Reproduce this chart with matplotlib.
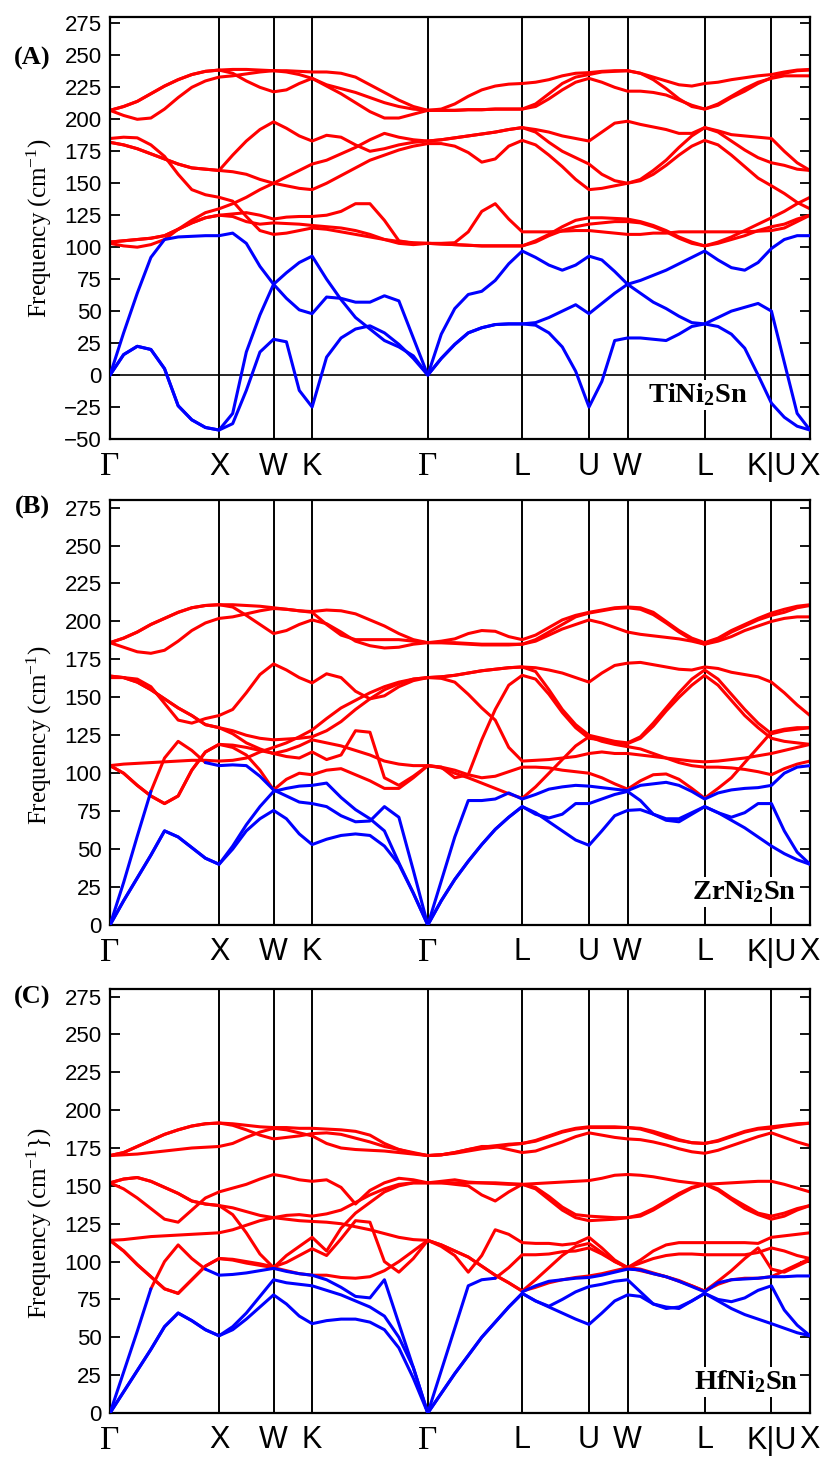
import numpy as np
import matplotlib
matplotlib.use("Agg")
import matplotlib.pyplot as plt

plt.rcParams['font.family'] = ['Liberation Sans', 'DejaVu Sans']
plt.rcParams['mathtext.fontset'] = 'custom'
plt.rcParams['mathtext.rm'] = 'Liberation Serif'
plt.rcParams['mathtext.it'] = 'Liberation Serif:italic'
plt.rcParams['mathtext.bf'] = 'Liberation Serif:bold'

nan = np.nan

# ---------------- k-path (fcc) ----------------
point_labels = ['Γ', 'X', 'W', 'K', 'Γ', 'L', 'U', 'W', 'L', 'K|U', 'X']
seg_len = [1.0, 0.5, np.sqrt(2) / 4, 3 * np.sqrt(2) / 4, np.sqrt(3) / 2,
           np.sqrt(6) / 4, np.sqrt(2) / 4, np.sqrt(2) / 2, np.sqrt(6) / 4, np.sqrt(2) / 4]
seg_n = [8, 4, 3, 8, 7, 5, 3, 6, 5, 3]

# ---------------- Panel A : TiNi2Sn ----------------
A_b1 = [0, 16, 22.5, 20, 5, -24, -35, -41, -43,
        -38, -12, 18, 28,  26, -12, -25,
        14, 29, 36, 38.5, 33, 24, 13, 0,
        13, 24, 33, 37, 39.5, 40, 40,
        39, 33, 22, 3, -25,  -5, 27, 29,
        29, 28, 27, 32, 38, 40,
        38, 32, 21, 0, -22,  -33, -40, -43]
A_b2 = [0, 16, 22.5, 20, 5, -24, -35, -41, -43,
        -30, 18, 47, 71,  80, 88, 93,
        75, 59, 45, 36, 27, 22, 15, 0,
        32, 52, 63, 65.5, 74, 87, 97,
        92, 86, 82, 86, 93,  90, 81, 71,
        74, 78, 82, 87, 92, 97,
        90, 84, 82, 88, 99,  106, 109, 109]
A_b3 = [0, 33, 64, 92, 106, 108, 108.5, 109, 109,
        111, 103, 85, 71,  60, 51, 48,
        61, 60, 57, 57, 62, 58, 29, 0,
        13, 24, 33, 37, 39.5, 40, 40,
        41, 45, 50, 55, 48,  56, 64, 71,
        64, 57, 52, 46, 41, 40,
        45, 50, 53, 56, 50,  10, -30, -43]
A_r1 = [207, 210, 214, 220, 226, 231, 235, 237.5, 238.5,
        239, 239, 238.5, 238,  238, 237.5, 237,
        237, 236, 233, 227, 221, 215, 210, 207,
        208, 212, 218, 223, 226, 227.5, 228,
        229, 231, 234, 236, 236.5,  237.5, 238, 238,
        236, 233, 230, 227, 226, 228,
        229, 231, 232.5, 234, 235,  237, 238.5, 239]
A_r2 = [207, 203, 200, 201, 208, 217, 225, 230, 233,
        234, 235.5, 237, 238,  237, 235, 232,
        227, 224, 221, 217, 213, 210, 208, 207,
        207, 207, 207.5, 207.5, 208, 208, 208,
        210, 216, 223, 229, 232,  229, 225, 222,
        222, 221, 219, 215, 211, 208,
        212, 218, 224, 229, 232,  234, 234, 234]
A_r3 = [207, 210, 214, 220, 226, 231, 235, 237.5, 238.5,
        236, 230, 225, 221.5,  223, 228, 232,
        226, 220, 213, 206, 201, 201, 204, 207,
        207, 207, 207.5, 207.5, 208, 208, 208,
        212, 220, 228, 233, 235,  237, 237.5, 238,
        236, 231, 224, 216, 210, 208,
        211, 217, 222, 228, 232.5,  236, 238, 238.5]
A_r4 = [185, 186, 185.5, 180, 171, 157, 145, 141, 139,
        136, 124, 113, 110,  111, 113, 115,
        114, 112, 110, 108, 106, 104.5, 103.5, 103,
        102.5, 102, 101.5, 101, 101, 101, 101,
        105, 110, 116, 121, 123,  123, 122.5, 122,
        120, 117, 113, 108, 104, 101,
        104, 108, 113, 118, 123,  128, 134, 139]
A_r5 = [182, 180, 177, 173, 169, 165, 162, 161, 160,
        172, 183, 192, 198,  193, 187, 183,
        187.5, 186, 180, 175, 177, 180, 182, 183,
        184, 185.5, 187, 188.5, 190, 192, 193.5,
        192, 190, 187, 185, 183,  190, 197, 198.5,
        196, 194, 192, 189, 189, 193.5,
        191, 188, 187, 186, 185,  175, 166, 160]
A_r6 = [182, 180, 177, 173, 169, 165, 162, 161, 160,
        159, 157, 153, 150,  155, 160, 165,
        168, 173, 178, 184, 189, 186, 184, 183,
        184, 185.5, 187, 188.5, 190, 192, 193.5,
        190, 182, 175, 170, 165,  157, 152, 150,
        153, 160, 168, 178, 187, 193.5,
        190, 183, 176, 170, 166,  164, 161, 160]
A_r7 = [103, 101, 100, 102, 106, 114, 121, 127, 130,
        134, 139, 145, 150,  148, 146, 145,
        150, 156, 162, 168, 172, 176, 179, 181,
        181, 179, 174, 166.5, 169, 179, 183.5,
        180, 172, 163, 153, 145,  146, 148, 150,
        152, 157, 164, 172, 179, 183.5,
        180, 172, 163, 154, 148,  142, 135, 130]
A_r8 = [104, 105, 106, 107, 109, 114, 119, 123, 125,
        126, 127, 125, 122,  123.5, 124, 124,
        125, 128, 134, 134, 121, 105, 103, 103,
        103, 103.5, 112, 128, 134, 122, 112,
        112, 112, 112.5, 113, 113,  112, 111, 110,
        110, 111, 111, 112, 112, 112,
        112, 112, 112, 112.5, 113,  115, 120, 125]
A_r9 = [104, 105, 106, 107, 109, 114, 119, 123, 125,
        124, 120, 118, 119,  118.5, 118, 117,
        116, 115, 113, 110, 106, 103, 102, 103,
        102.5, 102, 101.5, 101, 101, 101, 101,
        104, 109, 113, 116, 118,  119, 120, 120,
        119, 116, 112, 107, 103, 101,
        103, 106, 109, 113, 116,  118, 122, 125]

# ---------------- Panel B : ZrNi2Sn ----------------
B_b1 = [0, 16, 31, 46, 62, 58, 51, 44, 40,
        50, 62, 70, 75.5,  70, 60, 53,
        56.5, 59, 60, 59, 52, 40, 21, 0,
        16, 30, 42, 53, 63, 71, 78,
        74, 68, 62, 56, 52.5,  62, 72, 75.5,
        76, 73, 70, 70, 74, 78,
        74, 69, 64, 58, 52,  47, 43, 40]
B_b2 = [0, 16, 31, 46, 62, 58, 51, 44, 40,
        52, 66, 78, 88,  90, 91.5, 92,
        93.5, 84, 76, 70, 62, 41, 21, 0,
        16, 30, 42, 53, 63, 71, 78,
        73, 70.5, 73, 80, 80,  83, 86, 88,
        82, 73, 69, 68, 73, 78,
        74, 71, 74, 80, 80,  62, 48, 40]
B_b3 = [0, 28, 58.5, 88, nan, nan, nan, 107, 105,
        105.5, 105, 98, 89,  85, 81, 80,
        78, 72, 68, 68.5, 78, 71, 36, 0,
        29, 58, 82, 82, 83, 87, 83,
        86, 89.5, 91, 92, 91.5,  90.5, 89.5, 88.5,
        92, 93, 94, 92, 88, 83,
        87, 89, 90, 90.5, 92,  100, 104, 105]
B_x = [nan, nan, nan, 88, 110, 121, 115, 107] + [nan] * 45
B_r1 = [186, 189, 193, 198, 202, 206, 209, 210.5, 211,
        211, 210.5, 210, 209,  208, 207, 206.5,
        207.5, 207, 205, 201, 197, 192, 188, 186,
        187, 188.5, 192, 194, 193.5, 190, 188,
        191, 196, 201, 204, 206,  207.5, 209, 209.5,
        209, 206, 200, 194, 189, 186,
        189, 194, 198, 202, 205.5,  208, 210, 211]
B_r2 = [186, 183, 180, 179, 181, 187, 194, 199, 202,
        203, 205, 207, 208.5,  208, 207, 206,
        198, 191, 188, 188, 188, 188, 187, 186,
        186, 186, 185.5, 185, 185, 185, 185,
        188, 193, 198, 203, 205.5,  207, 208.5, 209,
        208, 204.5, 199, 193, 188, 185,
        188, 193, 197, 201, 204,  206, 209, 210.5]
B_r3 = [186, 189, 193, 198, 202, 206, 209, 210.5, 211,
        209.5, 204, 198, 192,  194, 198, 201,
        198.5, 193, 187, 184, 182.5, 183, 185, 186,
        186, 185.5, 185, 184.5, 184.5, 184.5, 185,
        187, 191, 195, 198, 201,  199, 196, 193,
        191.5, 190.5, 189.5, 188.5, 187, 185,
        187, 190, 194, 197, 200,  202, 203, 203]
B_r4 = [163, 163, 162, 157, 146, 135, 133, 136, 138,
        142, 153, 165, 172,  168, 163, 159.5,
        165.5, 163, 154, 149, 151, 157, 161, 163,
        163.5, 164.5, 166, 167.5, 168.5, 169.5, 170,
        169.5, 168, 166, 163, 160,  166, 171, 172.5,
        173, 171.5, 170, 168.5, 168, 170,
        169, 166.5, 165, 163.5, 160,  153, 145, 138]
B_r5 = [164, 163, 160, 155, 149, 143, 138, 132, 130,
        128, 125, 123, 122,  122.5, 123, 124,
        128, 134, 142, 149, 155, 159, 162, 163,
        163.5, 164.5, 166, 167.5, 168.5, 169.5, 170,
        167, 155, 142, 132, 125,  123, 121, 120,
        124, 133, 143, 153, 162, 168,
        162, 152, 142, 133, 126,  128, 129, 130]
B_r6 = [164, 163, 160, 155, 149, 143, 138, 132, 130,
        126, 120, 116, 113,  111, 110, 114,
        109, 112, 128, 127, 97, 92, 98, 105,
        104, 97, 99, 122, 142, 158, 164.5,
        162, 152, 140, 130, 123,  122, 120, 119.5,
        123, 131, 141, 150, 158, 164.5,
        158, 148, 138, 130, 123,  121, 120, 119]
B_r7 = [105, 106, 106.5, 107, 107.5, 108, 108.5, 108.5, 108,
        108.5, 110, 114, 117,  120, 124, 128.5,
        136, 143, 148, 153, 157, 160, 162, 163,
        162.5, 160, 152, 143, 135, 117, 108,
        108.5, 109, 110, 111, 113,  114, 113, 113,
        112, 111, 110, 109, 108, 107.5,
        108, 109, 110, 111.5, 113,  115, 117, 119]
B_r8 = [105, 100, 92, 85, 80, 85, 102, 114, 119,
        117, 112, 102, 89,  96, 100, 99,
        102, 103, 99, 95, 90, 90, 97, 105,
        104, 102, 99, 97, 98, 101, 104,
        104, 103.5, 102, 101, 100,  97, 93, 89.5,
        95, 99, 99.5, 96, 90, 83.5,
        90, 97, 107, 117, 127,  129, 130, 130]
B_r9 = [105, 100, 92, 85, 80, 85, 102, 114, 119,
        118.5, 117, 115, 113,  115, 118, 122,
        120, 118, 115, 112, 108, 106, 105, 105,
        103.5, 100, 97, 93.5, 90, 86.5, 83.5,
        91, 100, 109, 118, 124,  121, 119, 117.5,
        116, 113, 110, 107, 105, 104,
        104, 103.5, 102.5, 101, 99,  103, 106, 108]

# ---------------- Panel C : HfNi2Sn ----------------
C_b1 = [0, 14, 28, 42, 57, 66, 61, 55, 51,
        55, 62, 70, 78,  72, 64, 59,
        61, 62, 62, 60, 55, 43, 23, 0,
        13, 26, 38, 50, 60, 70, 79,
        74, 70, 66, 62, 58.5,  66, 74, 78,
        77, 72, 69, 70, 74, 79,
        74, 69, 65, 62, 59,  56, 53, 51]
C_b2 = [0, 14, 28, 42, 57, 66, 61, 55, 51,
        57, 66, 77, 88,  86, 85, 84,
        81, 78, 74, 70, 64, 50, 30, 0,
        13, 26, 38, 50, 60, 70, 79,
        74, 70.5, 75, 80, 83.5,  85, 87, 88,
        80, 72, 70, 69, 74, 79,
        75, 73.5, 76, 81, 84,  68, 58, 51]
C_b3 = [0, 27, 54, 82, nan, nan, nan, 95, 91,
        91.5, 92.5, 94, 95.5,  93.5, 92, 91,
        88, 83, 77, 76, 88, 59, 30, 0,
        28, 56, 84, 88, 89, nan, 80,
        84, 87, 88, 89, 89.5,  91, 93, 95,
        94.5, 92, 90, 87, 83.5, 80,
        86, 88, 88.5, 89, 90,  90, 90.5, 90.5]
C_x = [nan, nan, nan, 82, 100, 111, 102, 95, nan,
       nan, nan, nan, nan,  nan, nan, nan,
       nan, nan, nan, nan, nan, nan, nan, nan,
       nan, nan, nan, nan, 89, 96, 104.5,
       104.5, 105, 106.5, 107, 109,  105, 100, 96,
       99, 102, 104, 105, 105, 104.5,
       104.5, 104.5, 104.5, 106, 109,  107, 104, 102]
C_r1 = [170, 172, 176, 180, 184, 187, 189.5, 191, 191.5,
        191, 190, 189, 188.5,  188.5, 188, 188,
        187.5, 187, 186, 183.5, 178, 174, 171.5, 170,
        170.5, 172, 174, 175.5, 176.5, 177.5, 178,
        180, 183, 186, 188, 189,  189, 189, 188.5,
        188, 186, 183.5, 180.5, 178.5, 178,
        180, 183, 186, 188, 189,  190, 191, 191.4]
C_r2 = [170, 170.5, 171, 172, 173, 174, 175, 175.5, 176,
        178, 182, 185.5, 188,  187, 185, 183,
        178, 175, 174, 173.5, 173, 172, 171, 170,
        170.5, 172, 174, 176, 176, 174, 172,
        173, 176, 179, 182.5, 185,  183.5, 182, 181,
        180.5, 179, 177, 174.5, 172.5, 171.5,
        173.5, 176.5, 179.5, 182.5, 185,  182, 179, 176.5]
C_r3 = [170, 172, 176, 180, 184, 187, 189.5, 191, 191.5,
        190, 187, 183.5, 181,  182, 183, 184.5,
        185, 184, 181.5, 179, 176, 174, 172, 170,
        170.5, 171.5, 173, 174.5, 175.5, 177, 178,
        179.5, 182.5, 185.5, 187.5, 188.5,  188.5, 188.5, 188.5,
        187.5, 185, 182, 180, 178.5, 178,
        179.5, 182.5, 185.5, 187.5, 188,  189.5, 190.5, 191.4]
C_r4 = [152, 154.5, 155.5, 153, 149, 145, 140, 138, 137,
        135.5, 133, 130.5, 129,  130.5, 131, 130,
        131.5, 134, 139, 144, 148, 151, 152, 152,
        153, 154, 152.5, 152, 152, 151.5, 151,
        151.5, 152, 152.5, 153, 153.5,  155, 157, 157.5,
        157, 156, 154.5, 153, 152, 151,
        151.5, 152, 152.5, 153, 153,  151, 148.5, 146]
C_r5 = [152, 148, 142, 135, 128, 126, 134, 142, 146,
        148.5, 151, 154.5, 157.5,  156, 154, 153,
        154, 149, 138, 147, 152, 155, 154, 152,
        152, 151, 150, 144, 140, 146, 151,
        149, 143, 136, 131, 130,  129.5, 129, 129,
        131, 135, 140, 145, 149, 151,
        148, 142, 137, 132, 130,  132, 135, 137]
C_r6 = [152, 154.5, 155.5, 153, 149, 145, 140, 138, 137,
        131, 119, 105, 96,  104, 110, 116,
        107, 122, 132, 139, 146, 150, 152, 152,
        152, 152, 152, 152, 151.5, 151, 151,
        148, 141, 134, 129, 127,  127.5, 128, 129,
        130, 134, 139, 144, 148.5, 151,
        147, 141, 135, 131, 128,  130, 134, 137]
C_r7 = [114, 114.5, 115.5, 116.5, 117, 117.5, 118, 118.5, 119,
        121, 124, 127, 129,  128, 127, 126.5,
        126, 125, 123, 121, 118.5, 116, 114.5, 114,
        110, 104, 93, 104, 121, 118, 112.5,
        112, 112, 111, 112, 116,  109, 101, 96,
        101, 107, 111, 112.5, 112.5, 112.5,
        112.5, 112.5, 112.5, 112, 116,  117, 118, 119]
C_r8 = [114, 107, 98, 90, 82, 79, 88, 97, 102,
        101.5, 100, 98.5, 96.5,  99.5, 104, 108.5,
        104, 115, 127, 126, 100, 93, 102, 114,
        111, 107, 103, 97, 91, 86, 80.5,
        88, 96, 104, 110, 112,  106, 100, 96,
        94, 92, 90, 87, 84, 80.5,
        87, 94, 102, 109, 95,  93, 97, 101]
C_r9 = [114, 107, 98, 90, 82, 79, 88, 97, 102,
        101, 99, 97.5, 96,  94, 92, 91,
        91, 89.5, 89, 90, 94, 100, 107, 114,
        111, 107, 103, 97, 91, 86, 80.5,
        83, 86, 88, 89.5, 90.5,  92, 94, 96,
        95, 92.5, 90, 87.5, 84, 80.5,
        85, 88, 89, 89, 90,  94, 98, 102]

compounds = ['TiNi_2Sn', 'ZrNi_2Sn', 'HfNi_2Sn']
panel_tags = ['(A)', '(B)', '(C)']
ylabels = ['Frequency (cm$^{-1}$)', 'Frequency (cm$^{-1}$)', 'Frequency (cm$^{-1}$})']

# ---------------- build path coordinates ----------------
hs = np.concatenate([[0.0], np.cumsum(seg_len)])
kpts = [0.0]
for i, (L, n) in enumerate(zip(seg_len, seg_n)):
    kpts.extend(hs[i] + L * np.arange(1, n + 1) / n)
kpts = np.array(kpts)

panels = [
    dict(blue=[A_b1, A_b2, A_b3], red=[A_r1, A_r2, A_r3, A_r4, A_r5, A_r6, A_r7, A_r8, A_r9],
         ylim=(-50, 280), yticks=np.arange(-50, 276, 25), zero=True),
    dict(blue=[B_b1, B_b2, B_b3], red=[B_x, B_r1, B_r2, B_r3, B_r4, B_r5, B_r6, B_r7, B_r8, B_r9],
         ylim=(0, 280), yticks=np.arange(0, 276, 25), zero=False),
    dict(blue=[C_b1, C_b2, C_b3], red=[C_x, C_r1, C_r2, C_r3, C_r4, C_r5, C_r6, C_r7, C_r8, C_r9],
         ylim=(0, 280), yticks=np.arange(0, 276, 25), zero=False),
]

W, H = 832, 1460
fig = plt.figure(figsize=(W / 100, H / 100), dpi=100)
frames = [(17, 439), (500, 925), (989, 1413)]
ylab_y = [228, 735, 1223]
tag_y = [58, 507, 997]
comp_pos = [(0.911, 0.104), (0.981, 0.078), (0.983, 0.073)]

for p, (top, bot), yl, ty, cp, comp, tag, ylab in zip(panels, frames, ylab_y, tag_y, comp_pos,
                                                       compounds, panel_tags, ylabels):
    ax = fig.add_axes([110 / W, 1 - bot / H, 700 / W, (bot - top) / H])
    for x in hs[1:-1]:
        ax.axvline(x, color='black', lw=1.4, zorder=1)
    if p['zero']:
        ax.axhline(0, color='black', lw=1.2, zorder=1)
    for band in p['red']:
        ax.plot(kpts, np.asarray(band, dtype=float), color='#ff0000', lw=2.2, zorder=2,
                solid_capstyle='round')
    for band in p['blue']:
        ax.plot(kpts, np.asarray(band, dtype=float), color='#0000ff', lw=2.2, zorder=3,
                solid_capstyle='round')
    ax.set_xlim(hs[0], hs[-1])
    ax.set_ylim(*p['ylim'])
    ax.set_yticks(p['yticks'])
    ax.tick_params(axis='y', direction='in', length=7, width=1.3, left=True, right=True,
                   labelsize=16, pad=6)
    ax.set_xticks(hs)
    ax.set_xticklabels(point_labels)
    ax.tick_params(axis='x', length=0, pad=9, labelsize=22)
    for lbl in ax.get_xticklabels():
        if lbl.get_text() == 'Γ':
            lbl.set_fontfamily('Liberation Serif')
            lbl.set_fontsize(24)
    for s in ax.spines.values():
        s.set_linewidth(1.6)
    ax.text(cp[0], cp[1], r'$\mathbf{' + comp + '}$', transform=ax.transAxes,
            ha='right', va='center', fontsize=20.5, zorder=6,
            bbox=dict(facecolor='white', edgecolor='none', pad=1.0))
    fig.text(39 / W, 1 - yl / H, ylab, rotation=90, ha='center',
             va='center', fontsize=18, fontfamily='Liberation Serif')
    fig.text(32 / W, 1 - ty / H, tag, ha='center', va='center', fontsize=19,
             fontweight='bold', fontfamily='Liberation Serif')

fig.savefig('out.png', dpi=100)
